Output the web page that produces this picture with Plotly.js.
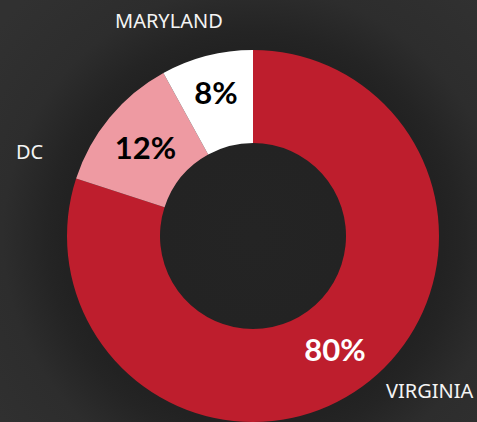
<!DOCTYPE html>
<html>
<head>
<meta charset="utf-8">
<script src="https://cdn.plot.ly/plotly-3.0.1.min.js"></script>
<style>
  html, body { margin: 0; padding: 0; width: 477px; height: 422px; overflow: hidden;
    background: radial-gradient(circle at 253px 237px, #242424 0px, #222222 190px, #242424 205px, #2d2d2d 250px, #313131 330px); }
  #chart { width: 477px; height: 422px; }
</style>
</head>
<body>
<div id="chart"></div>
<script>
const categories = ["VIRGINIA", "DC", "MARYLAND"];
const shares = [80, 12, 8];
const sliceColors = ["#be1e2d", "#ee9aa2", "#ffffff"];
const pctColors = ["#ffffff", "#000000", "#000000"];
const labelPos = [[0.9015, 0.0735], [0.0629, 0.642], [0.355, 0.9526]];

const trace = {
  type: "pie",
  labels: categories,
  values: shares,
  hole: 0.5,
  sort: false,
  direction: "clockwise",
  rotation: 0,
  marker: { colors: sliceColors, line: { width: 0 } },
  texttemplate: "%{value}%",
  textposition: "inside",
  insidetextorientation: "horizontal",
  insidetextfont: { family: "Lato, sans-serif", size: 31, color: pctColors, weight: "bold" },
  hoverinfo: "none",
  showlegend: false,
  domain: { x: [66 / 477, 440 / 477], y: [0, 372 / 422] }
};

const annotations = categories.map((c, i) => ({
  text: c, xref: "paper", yref: "paper",
  x: labelPos[i][0], y: labelPos[i][1],
  xanchor: "center", yanchor: "middle", showarrow: false,
  font: { family: "Noto Sans, sans-serif", size: 20, color: "#f4f4f4" }
}));

Plotly.newPlot("chart", [trace], {
  width: 477, height: 422,
  margin: { l: 0, r: 0, t: 0, b: 0 },
  paper_bgcolor: "rgba(0,0,0,0)",
  plot_bgcolor: "rgba(0,0,0,0)",
  annotations: annotations
}, { displayModeBar: false, staticPlot: true });
</script>
</body>
</html>
